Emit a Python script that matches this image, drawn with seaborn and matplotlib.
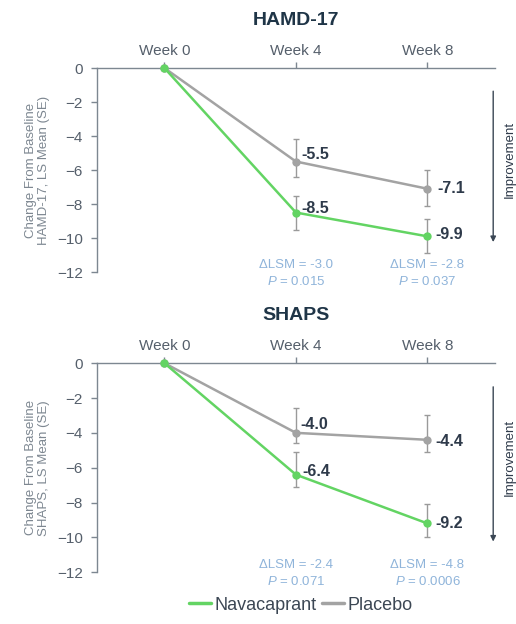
import pandas as pd
import matplotlib.pyplot as plt
import matplotlib.lines as mlines
import seaborn as sns

# Data
weeks = [0, 4, 8]
week_labels = ["Week 0", "Week 4", "Week 8"]

hamd_nava = [0, -8.5, -9.9]
hamd_nava_lo = [0, -9.5, -10.9]
hamd_nava_hi = [0, -7.5, -8.9]
hamd_plac = [0, -5.5, -7.1]
hamd_plac_lo = [0, -6.4, -8.1]
hamd_plac_hi = [0, -4.2, -6.0]
hamd_dlsm = ["-3.0", "-2.8"]
hamd_p = ["0.015", "0.037"]

shaps_nava = [0, -6.4, -9.2]
shaps_nava_lo = [0, -7.1, -10.0]
shaps_nava_hi = [0, -5.1, -8.1]
shaps_plac = [0, -4.0, -4.4]
shaps_plac_lo = [0, -4.6, -5.1]
shaps_plac_hi = [0, -2.6, -3.0]
shaps_dlsm = ["-2.4", "-4.8"]
shaps_p = ["0.071", "0.0006"]

GREEN = "#63d463"
GREY = "#a3a3a3"
NAVY = "#1f3547"
LABEL = "#2e3a4a"
BLUE = "#8fb4da"
AXIS = "#7d8791"

sns.set_theme(style="white")
plt.rcParams["font.family"] = ["Liberation Sans", "DejaVu Sans"]
plt.rcParams["mathtext.fontset"] = "custom"
plt.rcParams["mathtext.it"] = "Liberation Sans:italic"
plt.rcParams["mathtext.rm"] = "Liberation Sans"

fig = plt.figure(figsize=(5.16, 6.24), dpi=100)
ax1 = fig.add_axes([0.188, 0.564, 0.771, 0.327])
ax2 = fig.add_axes([0.188, 0.083, 0.771, 0.335])

panels = [
    (ax1, "HAMD-17", "HAMD-17, LS Mean (SE)",
     hamd_nava, hamd_nava_lo, hamd_nava_hi, hamd_plac, hamd_plac_lo, hamd_plac_hi,
     hamd_dlsm, hamd_p,
     {"plac": [(4, 5), (7, 0)], "nava": [(4, 3), (6, 1)]}),
    (ax2, "SHAPS", "SHAPS, LS Mean (SE)",
     shaps_nava, shaps_nava_lo, shaps_nava_hi, shaps_plac, shaps_plac_lo, shaps_plac_hi,
     shaps_dlsm, shaps_p,
     {"plac": [(3, 6), (6, -1)], "nava": [(5, 2), (6, 0)]}),
]

for (ax, title, ylab, nava, nava_lo, nava_hi, plac, plac_lo, plac_hi,
     dlsm, pvals, offs) in panels:
    df = pd.DataFrame({
        "week": weeks * 2,
        "value": plac + nava,
        "group": ["Placebo"] * 3 + ["Navacaprant"] * 3,
    })

    # error bars first so the lines sit on top
    for vals, lo, hi in [(plac, plac_lo, plac_hi), (nava, nava_lo, nava_hi)]:
        yerr = [[v - l for v, l in zip(vals[1:], lo[1:])],
                [h - v for v, h in zip(vals[1:], hi[1:])]]
        ax.errorbar(weeks[1:], vals[1:], yerr=yerr, fmt="none", ecolor="#9a9a9a",
                    elinewidth=1, capsize=2.5, capthick=1, zorder=1)

    sns.lineplot(data=df, x="week", y="value", hue="group",
                 hue_order=["Placebo", "Navacaprant"],
                 palette={"Placebo": GREY, "Navacaprant": GREEN},
                 marker="o", markersize=6, markeredgewidth=0, linewidth=1.8,
                 legend=False, ax=ax, zorder=3, clip_on=False)

    # value labels
    for vals, key in [(plac, "plac"), (nava, "nava")]:
        for x, v, o in zip(weeks[1:], vals[1:], offs[key]):
            ax.annotate(f"{v:.1f}", (x, v), xytext=o, textcoords="offset points",
                        ha="left", va="center", fontsize=11.5, fontweight="bold",
                        color=LABEL)

    # treatment differences
    for x, d, p in zip(weeks[1:], dlsm, pvals):
        ax.text(x, -11.6, f"ΔLSM = {d}", ha="center", va="center",
                fontsize=9.5, color=BLUE, clip_on=False)
        ax.text(x, -12.55, f"$\\mathit{{P}}$ = {p}", ha="center", va="center",
                fontsize=9.5, color=BLUE, clip_on=False)

    # improvement arrow
    ax.annotate("", xy=(10, -10.4), xytext=(10, -1.2),
                arrowprops=dict(arrowstyle="-|>", color="#3a4654", lw=1,
                                mutation_scale=8), annotation_clip=False)
    ax.text(10.5, -5.4, "Improvement", rotation=90, ha="center", va="center",
            fontsize=9.5, color=LABEL, clip_on=False)

    ax.set_xlim(-2.05, 10.05)
    ax.set_ylim(-12, 0)
    ax.set_xticks(weeks)
    ax.set_xticklabels(week_labels)
    ax.set_yticks(range(0, -13, -2))
    ax.xaxis.tick_top()
    ax.set_xlabel("")
    ax.set_ylabel("Change From Baseline\n" + ylab, fontsize=9.5, color=AXIS,
                  labelpad=5, linespacing=1.1)
    ax.set_title(title, fontsize=14, fontweight="bold", color=NAVY, pad=14)

    for s in ["right", "bottom"]:
        ax.spines[s].set_visible(False)
    for s in ["top", "left"]:
        ax.spines[s].set_color(AXIS)
        ax.spines[s].set_linewidth(1)
    ax.tick_params(axis="x", top=True, bottom=False, direction="out", length=4,
                   width=1, color=AXIS, labelsize=11, labelcolor="#555f6b", pad=3)
    ax.tick_params(axis="y", left=True, direction="out", length=4, width=1,
                   color=AXIS, labelsize=11, labelcolor="#555f6b", pad=6)
    ax.grid(False)

handles = [mlines.Line2D([], [], color=GREEN, lw=2.5),
           mlines.Line2D([], [], color=GREY, lw=2.5)]
fig.legend(handles, ["Navacaprant", "Placebo"], loc="center",
           bbox_to_anchor=(0.583, 0.03), ncol=2, frameon=False, fontsize=13,
           handlelength=1.2, handletextpad=0.2, columnspacing=0.3,
           labelcolor="#3c4754")

fig.savefig("out.png", dpi=100)
